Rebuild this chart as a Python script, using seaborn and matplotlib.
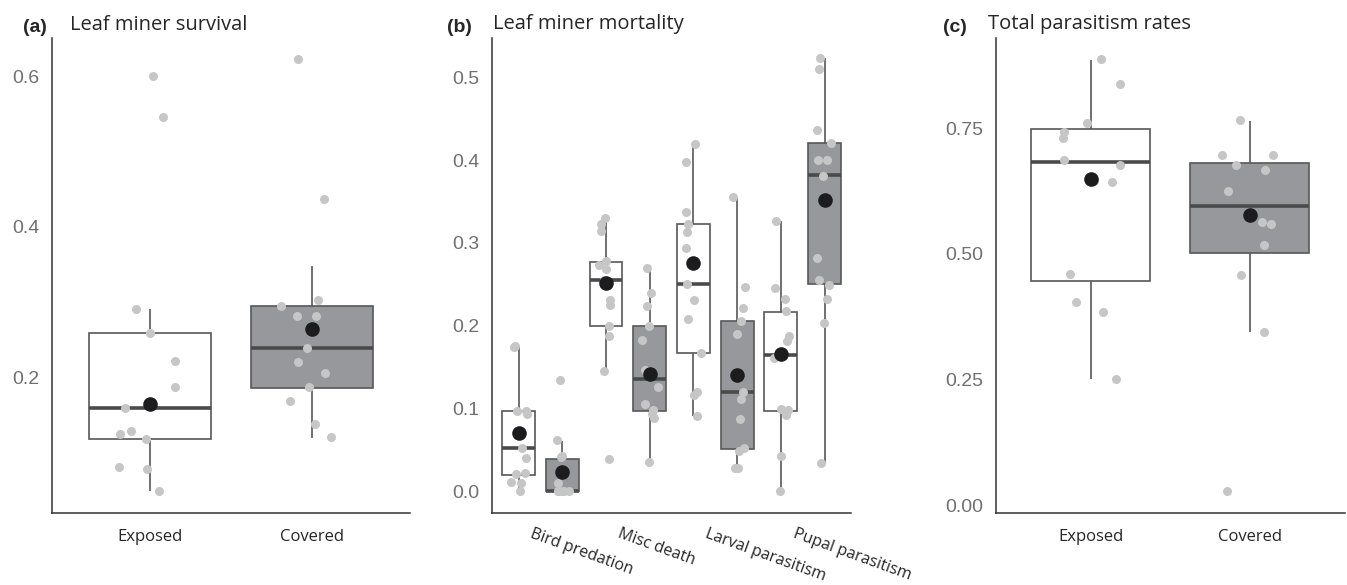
import numpy as np
import pandas as pd
import matplotlib
matplotlib.use("Agg")
import matplotlib.pyplot as plt
import matplotlib.transforms as mtransforms
import seaborn as sns

treatments = ["Exposed", "Covered"]

# (a) leaf miner survival: raw points, box summary (whislo, q1, med, q3, whishi), model means
surv_pts_exposed = [0.600, 0.546, 0.290, 0.258, 0.221, 0.187, 0.159, 0.128, 0.125, 0.118, 0.081, 0.078, 0.048]
surv_pts_covered = [0.622, 0.437, 0.302, 0.295, 0.281, 0.281, 0.238, 0.220, 0.206, 0.187, 0.168, 0.137, 0.120]
surv_box_exposed = [0.048, 0.118, 0.159, 0.258, 0.290]
surv_box_covered = [0.119, 0.186, 0.238, 0.295, 0.347]
surv_means = [0.164, 0.264]

# (b) leaf miner mortality by cause
causes = ["Bird predation", "Misc death", "Larval parasitism", "Pupal parasitism"]
mort_pts = {
    ("Bird predation", "Exposed"): [0.175, 0.174, 0.097, 0.097, 0.093, 0.052, 0.040, 0.022, 0.021, 0.011, 0.010, 0.0],
    ("Bird predation", "Covered"): [0.134, 0.062, 0.041, 0.042, 0.010, 0.0, 0.0, 0.0, 0.0, 0.0, 0.0],
    ("Misc death", "Exposed"): [0.330, 0.323, 0.314, 0.278, 0.273, 0.268, 0.255, 0.231, 0.225, 0.200, 0.187, 0.145, 0.039],
    ("Misc death", "Covered"): [0.270, 0.240, 0.224, 0.200, 0.183, 0.147, 0.126, 0.105, 0.098, 0.093, 0.088, 0.035],
    ("Larval parasitism", "Exposed"): [0.420, 0.398, 0.337, 0.323, 0.313, 0.294, 0.250, 0.231, 0.208, 0.167, 0.120, 0.116, 0.091],
    ("Larval parasitism", "Covered"): [0.356, 0.247, 0.221, 0.206, 0.190, 0.120, 0.112, 0.087, 0.052, 0.049, 0.028, 0.028],
    ("Pupal parasitism", "Exposed"): [0.327, 0.245, 0.232, 0.218, 0.188, 0.181, 0.163, 0.161, 0.099, 0.098, 0.092, 0.042, 0.0],
    ("Pupal parasitism", "Covered"): [0.523, 0.510, 0.437, 0.421, 0.400, 0.400, 0.381, 0.282, 0.255, 0.249, 0.232, 0.203, 0.034],
}
mort_box = {
    ("Bird predation", "Exposed"): [0.0, 0.020, 0.052, 0.097, 0.174],
    ("Bird predation", "Covered"): [0.0, 0.0, 0.0, 0.039, 0.061],
    ("Misc death", "Exposed"): [0.145, 0.200, 0.255, 0.277, 0.330],
    ("Misc death", "Covered"): [0.035, 0.097, 0.136, 0.200, 0.269],
    ("Larval parasitism", "Exposed"): [0.091, 0.167, 0.250, 0.323, 0.420],
    ("Larval parasitism", "Covered"): [0.028, 0.051, 0.120, 0.206, 0.356],
    ("Pupal parasitism", "Exposed"): [0.0, 0.097, 0.165, 0.217, 0.326],
    ("Pupal parasitism", "Covered"): [0.034, 0.250, 0.382, 0.421, 0.523],
}
mort_means = [0.070, 0.023, 0.252, 0.142, 0.276, 0.141, 0.166, 0.352]

# (c) total parasitism rates
para_pts_exposed = [0.888, 0.838, 0.761, 0.743, 0.731, 0.687, 0.677, 0.645, 0.643, 0.460, 0.404, 0.385, 0.251]
para_pts_covered = [0.767, 0.697, 0.696, 0.676, 0.667, 0.626, 0.564, 0.559, 0.518, 0.457, 0.344, 0.028]
para_box_exposed = [0.251, 0.447, 0.682, 0.748, 0.886]
para_box_covered = [0.344, 0.502, 0.596, 0.681, 0.765]
para_means = [0.648, 0.578]

fill = {"Exposed": "white", "Covered": "#97989b"}
edge = "#585858"
pt_col = "#c6c6c6"
mean_col = "#1c1c1e"
num_font = "Liberation Sans"
txt_font = "Open Sans"

sns.set_style("white")
plt.rcParams["font.family"] = [txt_font, "DejaVu Sans"]


def long_df(groups):
    rows = []
    for slot, trt, vals in groups:
        for v in vals:
            rows.append({"slot": slot, "treatment": trt, "value": v})
    return pd.DataFrame(rows)


def draw_panel(ax, box_df, pts_df, mean_df, order):
    sns.boxplot(data=box_df, x="slot", y="value", hue="treatment", order=order,
                hue_order=treatments, palette=fill, dodge=False, width=0.75,
                saturation=1, whis=(0, 100), showfliers=False, showcaps=False,
                linecolor=edge, linewidth=1.2,
                medianprops=dict(linewidth=2.6, color="#4a4a4a"),
                legend=False, ax=ax)
    sns.stripplot(data=pts_df, x="slot", y="value", order=order, color=pt_col,
                  size=6.5, jitter=0.2, linewidth=0, zorder=3, ax=ax)
    sns.stripplot(data=mean_df, x="slot", y="value", order=order, color=mean_col,
                  size=10.5, jitter=False, linewidth=0, zorder=4, ax=ax)
    ax.set_xlim(-0.6, len(order) - 0.4)
    ax.set_xlabel("")
    ax.set_ylabel("")
    sns.despine(ax=ax)
    for s in ["left", "bottom"]:
        ax.spines[s].set_color("#333333")
        ax.spines[s].set_linewidth(1.1)
    ax.tick_params(axis="both", length=4, width=1.0, color="#333333")
    ax.tick_params(axis="y", pad=5)
    ax.tick_params(axis="x", pad=7)


def style_yticks(ax, ticks, labels):
    ax.set_yticks(ticks)
    ax.set_yticklabels(labels, fontfamily=num_font, fontsize=14, color="#707070")


np.random.seed(3)
fig = plt.figure(figsize=(13.47, 5.85), dpi=100)
bottom, height = 0.1226, 0.813
ax_a = fig.add_axes([0.0386, bottom, 0.2658, height])
ax_b = fig.add_axes([0.3655, bottom, 0.2661, height])
ax_c = fig.add_axes([0.7392, bottom, 0.2593, height])

# panel a
box_a = long_df([("Exposed", "Exposed", surv_box_exposed), ("Covered", "Covered", surv_box_covered)])
pts_a = long_df([("Exposed", "Exposed", surv_pts_exposed), ("Covered", "Covered", surv_pts_covered)])
mean_a = pd.DataFrame({"slot": treatments, "treatment": treatments, "value": surv_means})
draw_panel(ax_a, box_a, pts_a, mean_a, treatments)
ax_a.set_ylim(0.019, 0.651)
style_yticks(ax_a, [0.2, 0.4, 0.6], ["0.2", "0.4", "0.6"])
ax_a.set_xticks([0, 1])
ax_a.set_xticklabels(treatments, fontsize=12)

# panel b
slots = [f"{c} {t}" for c in causes for t in treatments]
box_b = long_df([(f"{c} {t}", t, mort_box[(c, t)]) for c in causes for t in treatments])
pts_b = long_df([(f"{c} {t}", t, mort_pts[(c, t)]) for c in causes for t in treatments])
mean_b = pd.DataFrame({"slot": slots, "treatment": treatments * len(causes), "value": mort_means})
draw_panel(ax_b, box_b, pts_b, mean_b, slots)
ax_b.set_ylim(-0.0266, 0.548)
style_yticks(ax_b, [0.0, 0.1, 0.2, 0.3, 0.4, 0.5], ["0.0", "0.1", "0.2", "0.3", "0.4", "0.5"])
ax_b.set_xticks(range(len(slots)))
blabels = []
for c in causes:
    blabels += [c, ""]
ax_b.set_xticklabels(blabels, fontsize=11.5, rotation=-20, ha="left", va="top",
                     rotation_mode="anchor")
shift = mtransforms.ScaledTranslation(11 / 72, 2 / 72, fig.dpi_scale_trans)
for lab in ax_b.get_xticklabels():
    lab.set_transform(lab.get_transform() + shift)

# panel c
box_c = long_df([("Exposed", "Exposed", para_box_exposed), ("Covered", "Covered", para_box_covered)])
pts_c = long_df([("Exposed", "Exposed", para_pts_exposed), ("Covered", "Covered", para_pts_covered)])
mean_c = pd.DataFrame({"slot": treatments, "treatment": treatments, "value": para_means})
draw_panel(ax_c, box_c, pts_c, mean_c, treatments)
ax_c.set_ylim(-0.016, 0.93)
style_yticks(ax_c, [0.0, 0.25, 0.5, 0.75], ["0.00", "0.25", "0.50", "0.75"])
ax_c.set_xticks([0, 1])
ax_c.set_xticklabels(treatments, fontsize=12)

# panel titles
H = 585.0
W = 1347.0
for tag, title, xt, xs in [("(a)", "Leaf miner survival", 23, 70.5),
                           ("(b)", "Leaf miner mortality", 447, 493),
                           ("(c)", "Total parasitism rates", 942.5, 988)]:
    fig.text(xt / W, 1 - 32.5 / H, tag, fontsize=14, fontweight="bold",
             fontfamily=num_font, va="baseline", ha="left")
    fig.text(xs / W, 1 - 29.5 / H, title, fontsize=14.5, va="baseline", ha="left")

fig.savefig("out.png", dpi=100)
